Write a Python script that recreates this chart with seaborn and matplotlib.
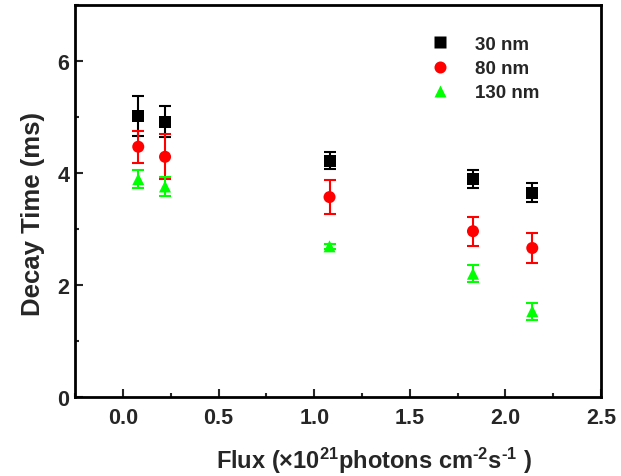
import numpy as np
import pandas as pd
import seaborn as sns
from matplotlib import pyplot as plt
from matplotlib.ticker import MultipleLocator

flux = [0.08, 0.22, 1.08, 1.83, 2.14]
tau_30 = [5.02, 4.92, 4.22, 3.89, 3.65]
err_30 = [0.35, 0.28, 0.15, 0.16, 0.17]
tau_80 = [4.47, 4.29, 3.57, 2.96, 2.66]
err_80 = [0.29, 0.40, 0.30, 0.26, 0.26]
tau_130 = [3.89, 3.76, 2.69, 2.20, 1.53]
err_130 = [0.16, 0.17, 0.05, 0.15, 0.15]

sizes = ['30 nm', '80 nm', '130 nm']
colors = ['#000000', '#ff0000', '#00ff00']
markers = ['s', 'o', '^']

df = pd.concat([
    pd.DataFrame({'flux': flux, 'tau': t, 'err': e, 'size': s})
    for t, e, s in zip([tau_30, tau_80, tau_130], [err_30, err_80, err_130], sizes)
])

sns.set_theme(style='ticks')
plt.rcParams['font.family'] = ['Liberation Sans', 'DejaVu Sans']
plt.rcParams['font.weight'] = 'bold'
plt.rcParams['mathtext.fontset'] = 'custom'
plt.rcParams['mathtext.rm'] = 'Liberation Sans:bold'
plt.rcParams['mathtext.it'] = 'Liberation Sans:bold'
plt.rcParams['mathtext.bf'] = 'Liberation Sans:bold'
plt.rcParams['mathtext.default'] = 'rm'

fig = plt.figure(figsize=(6.21, 4.77), dpi=100)
ax = fig.add_axes([0.121, 0.166, 0.847, 0.821])

for s, c in zip(sizes, colors):
    d = df[df['size'] == s]
    ax.errorbar(d['flux'], d['tau'], yerr=d['err'], fmt='none', ecolor=c,
                elinewidth=1.5, capsize=4, capthick=1.5, zorder=2)

sns.scatterplot(data=df, x='flux', y='tau', hue='size', style='size',
                hue_order=sizes, style_order=sizes, palette=colors,
                markers=markers, s=75, edgecolor='none', ax=ax, zorder=3)

ax.set_xlim(-0.25, 2.5)
ax.set_ylim(0, 7)
ax.xaxis.set_major_locator(MultipleLocator(0.5))
ax.xaxis.set_minor_locator(MultipleLocator(0.25))
ax.yaxis.set_major_locator(MultipleLocator(2))
ax.yaxis.set_minor_locator(MultipleLocator(1))
ax.tick_params(which='major', direction='in', length=6, width=1.5, labelsize=15.5)
ax.tick_params(axis='x', pad=7)
ax.tick_params(axis='y', pad=4)
ax.tick_params(which='minor', direction='in', length=3, width=1.5)
for lab in ax.get_xticklabels() + ax.get_yticklabels():
    lab.set_fontweight('bold')
for sp in ax.spines.values():
    sp.set_linewidth(2)
    sp.set_color('black')

ax.set_xlabel('Flux (\u00d710$^{21}$photons cm$^{\u2010 2}$s$^{\u2010 1}$ )',
              fontsize=17, fontweight='bold')
ax.set_ylabel('Decay Time (ms)', fontsize=18.5, fontweight='bold')
ax.xaxis.set_label_coords(0.568, -0.122)
ax.yaxis.set_label_coords(-0.058, 0.47)

ax.legend(loc='upper left', bbox_to_anchor=(0.625, 0.965), frameon=False,
          prop={'size': 13.5, 'weight': 'bold'}, handletextpad=0.9,
          labelspacing=0.38, title=None)

fig.savefig('out.png', dpi=100)
